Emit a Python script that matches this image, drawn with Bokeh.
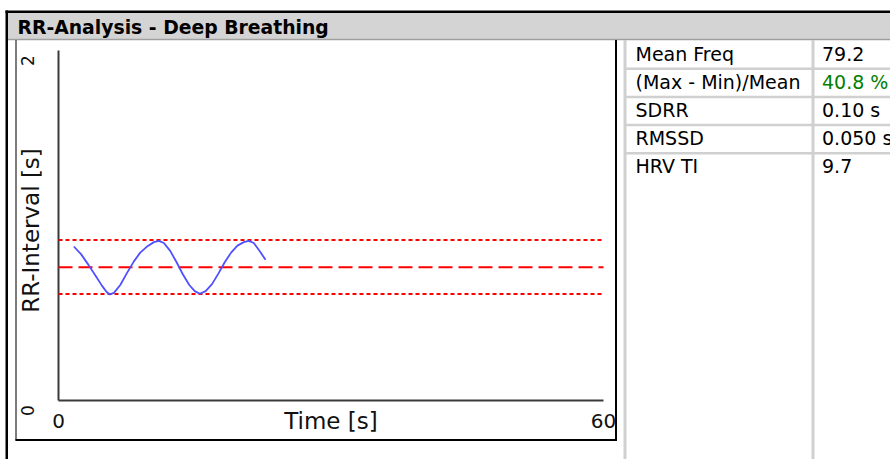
import math
from bokeh.plotting import figure
from bokeh.models import Range1d, ColumnDataSource
from bokeh.core.properties import value
from bokeh.embed import file_html
from bokeh.resources import INLINE

# ---------------- data ----------------
title_text = "RR-Analysis - Deep Breathing"
x_label = "Time [s]"
y_label = "RR-Interval [s]"
x_ticks = [0, 60]
y_ticks = [0, 2]

time_s = [1.69, 2.5, 3.3, 4.1, 4.8, 5.3, 5.65, 6.1, 6.8, 7.5, 8.3, 9.0, 9.8, 10.5,
          11.05, 11.6, 12.3, 13.0, 13.7, 14.4, 15.0, 15.56, 16.2, 16.9, 17.6, 18.3,
          19.0, 19.7, 20.4, 20.95, 21.5, 22.2, 22.79]
rr_s = [0.880, 0.835, 0.775, 0.712, 0.655, 0.620, 0.606, 0.615, 0.660, 0.725, 0.795,
        0.845, 0.882, 0.905, 0.912, 0.900, 0.855, 0.790, 0.720, 0.660, 0.625, 0.610,
        0.625, 0.665, 0.725, 0.790, 0.845, 0.885, 0.905, 0.912, 0.900, 0.850, 0.804]

rr_mean = 0.762
rr_max = 0.917
rr_min = 0.608

stat_names = ["Mean Freq", "(Max - Min)/Mean", "SDRR", "RMSSD", "HRV TI"]
stat_values = ["79.2", "40.8 %", "0.10 s", "0.050 s", "9.7"]

# ---------------- layout / style ----------------
W, H = 890, 459
OX, OY = 0, 0
AX_L, AX_R, AX_T, AX_B = 58, 603, 50, 400
FONT = value("DejaVu Sans")
highlight = {"(Max - Min)/Mean": "#008000"}
BL = -8   # baseline correction for rendered text

sx = (AX_R - AX_L) / (x_ticks[-1] - x_ticks[0])
sy = (AX_B - AX_T) / (y_ticks[-1] - y_ticks[0])
x_range = Range1d(x_ticks[0] - (AX_L - OX) / sx, x_ticks[-1] + (OX + W - AX_R) / sx)
y_range = Range1d(y_ticks[0] - (OY + H - AX_B) / sy, y_ticks[-1] + (AX_T - OY) / sy)

p = figure(width=W, height=H, x_range=x_range, y_range=y_range,
           x_axis_location=None, y_axis_location=None,
           toolbar_location=None, output_backend="svg", min_border=0,
           outline_line_color=None, background_fill_color="white",
           border_fill_color="white")
p.xgrid.visible = False
p.ygrid.visible = False
p.extra_x_ranges = {"px": Range1d(OX, OX + W)}
p.extra_y_ranges = {"py": Range1d(OY + H, OY)}
PX = dict(x_range_name="px", y_range_name="py")

# outer frame and title bar
p.quad(left=[5], right=[OX + W], top=[10], bottom=[12.5], fill_color="black", line_color=None, **PX)
p.quad(left=[5], right=[7.5], top=[10], bottom=[OY + H], fill_color="black", line_color=None, **PX)
p.quad(left=[7.5], right=[OX + W], top=[12.5], bottom=[38.5], fill_color="#d4d4d4", line_color=None, **PX)
p.segment(x0=[7.5], y0=[39], x1=[OX + W], y1=[39], line_color="#a0a0a0", line_width=1.5, **PX)
p.text(x=[17], y=[34.5 + BL], text=[title_text], text_font=FONT, text_font_size="18.8px",
       text_font_style="bold", text_color="black", text_baseline="alphabetic", **PX)

# chart panel
p.segment(x0=[15.5], y0=[39.5], x1=[15.5], y1=[440], line_color="#505050", line_width=1.5, **PX)
p.segment(x0=[15], y0=[439.5], x1=[616.5], y1=[439.5], line_color="black", line_width=2, **PX)
p.segment(x0=[615.5], y0=[39.5], x1=[615.5], y1=[440.5], line_color="black", line_width=2, **PX)

# table grid
grid_c = "#d0d0d0"
p.segment(x0=[624.5, 812.5], y0=[39.5, 39.5], x1=[624.5, 812.5], y1=[OY + H, OY + H],
          line_color=grid_c, line_width=3, **PX)
row_h = 28.2
sep_y = [40 + row_h * (i + 1) for i in range(len(stat_names) - 1)]
p.segment(x0=[624.5] * len(sep_y), y0=sep_y, x1=[OX + W] * len(sep_y), y1=sep_y,
          line_color=grid_c, line_width=2.5, **PX)

base_y = [61 + BL + row_h * i for i in range(len(stat_names))]
tsrc = ColumnDataSource(dict(
    xn=[635] * len(stat_names), xv=[821.5] * len(stat_names), y=base_y,
    name=stat_names, val=stat_values,
    col=[highlight.get(n, "black") for n in stat_names]))
p.text(x="xn", y="y", text="name", source=tsrc, text_font=FONT, text_font_size="19px",
       text_color="black", text_baseline="alphabetic", **PX)
p.text(x="xv", y="y", text="val", source=tsrc, text_font=FONT, text_font_size="19px",
       text_color="col", text_baseline="alphabetic", **PX)

# axes lines
p.segment(x0=[x_ticks[0]], y0=[y_ticks[0]], x1=[x_ticks[0]], y1=[y_ticks[-1]], line_color="#3a3a3a", line_width=2)
p.segment(x0=[x_ticks[0]], y0=[y_ticks[0]], x1=[x_ticks[-1]], y1=[y_ticks[0]], line_color="#3a3a3a", line_width=2)

# reference lines
p.segment(x0=[x_ticks[0]], y0=[rr_mean], x1=[x_ticks[-1]], y1=[rr_mean], line_color="#ff0000", line_width=2, line_dash="14 6")
p.segment(x0=[x_ticks[0]] * 2, y0=[rr_max, rr_min], x1=[x_ticks[-1]] * 2, y1=[rr_max, rr_min],
          line_color="#ff0000", line_width=2, line_dash="4 3")

# RR curve
p.line(time_s, rr_s, line_color="#5050ff", line_width=1.8)

# tick labels and axis titles
p.text(x=x_ticks, y=[428 + BL] * len(x_ticks), text=[str(t) for t in x_ticks], text_font=FONT,
       text_font_size="20px", text_align="center", text_baseline="alphabetic",
       text_color="#111111", y_range_name="py")
p.text(x=[(x_ticks[0] + x_ticks[-1]) / 2], y=[428 + BL], text=[x_label], text_font=FONT,
       text_font_size="23px", text_align="center", text_baseline="alphabetic",
       text_color="#111111", y_range_name="py")
p.text(x=[27] * len(y_ticks), y=y_ticks, text=[str(t) for t in y_ticks], text_font=FONT,
       text_font_size="17px", text_align="center", text_baseline="middle", angle=math.pi / 2,
       y_offset=10, text_color="#111111", x_range_name="px")
p.text(x=[30], y=[(y_ticks[0] + y_ticks[-1]) / 2], text=[y_label], text_font=FONT,
       text_font_size="23px", text_align="center", text_baseline="middle", angle=math.pi / 2,
       y_offset=5, text_color="#111111", x_range_name="px")

open("out.html", "w").write(file_html(p, INLINE))
